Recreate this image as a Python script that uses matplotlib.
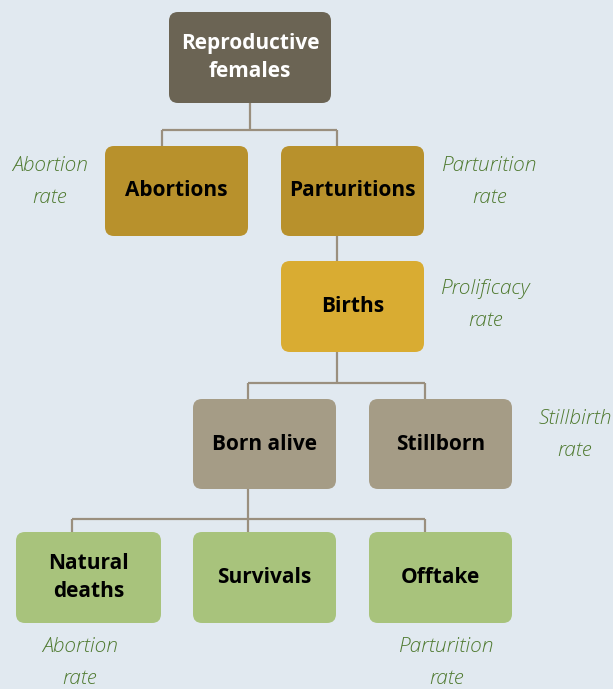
import matplotlib
matplotlib.use('Agg')
import matplotlib.pyplot as plt
from matplotlib.patches import FancyBboxPatch

# data
node_labels = ['Reproductive\nfemales', 'Abortions', 'Parturitions', 'Births',
               'Born alive', 'Stillborn', 'Natural\ndeaths', 'Survivals', 'Offtake']
node_levels = ['top', 'mid', 'mid', 'birth', 'born', 'born', 'end', 'end', 'end']
rate_labels = ['Abortion\nrate', 'Parturition\nrate', 'Prolificacy\nrate',
               'Stillbirth\nrate', 'Abortion\nrate', 'Parturition\nrate']

# layout (pixel coords of the image)
boxes = [(169, 12, 162, 91), (105, 146, 143, 90), (281, 146, 143, 90),
         (281, 261, 143, 91), (193, 399, 143, 90), (369, 399, 143, 90),
         (16, 532, 145, 91), (193, 532, 143, 91), (369, 532, 143, 91)]
level_colors = {'top': '#6b6454', 'mid': '#b8912c', 'birth': '#d9ac32',
                'born': '#a59c86', 'end': '#a8c37c'}
rate_pos = [(50, 182), (490, 182), (486, 305), (575, 435), (80, 663), (447, 663)]

connectors = [
    [(250, 103), (250, 130)], [(162, 130), (337, 130)],
    [(162, 130), (162, 146)], [(337, 130), (337, 146)],
    [(337, 236), (337, 261)],
    [(337, 352), (337, 383)], [(248, 383), (425, 383)],
    [(248, 383), (248, 399)], [(425, 383), (425, 399)],
    [(248, 489), (248, 519)], [(72, 519), (425, 519)],
    [(72, 519), (72, 532)], [(248, 519), (248, 532)], [(425, 519), (425, 532)],
]

fam = ['Open Sans', 'DejaVu Sans']
bg = '#e1e9f0'
line_col = '#9a8f7e'
rate_col = '#4f7a30'

fig = plt.figure(figsize=(6.13, 6.89), dpi=100, facecolor=bg)
ax = fig.add_axes([0, 0, 1, 1])
ax.set_xlim(0, 613)
ax.set_ylim(689, 0)
ax.axis('off')
ax.set_facecolor(bg)

for seg in connectors:
    xs, ys = zip(*seg)
    ax.plot(xs, ys, color=line_col, lw=1.6, solid_capstyle='butt', zorder=1)

for lab, lvl, (x, y, w, h) in zip(node_labels, node_levels, boxes):
    ax.add_patch(FancyBboxPatch((x, y), w, h, boxstyle='round,pad=0,rounding_size=9',
                                fc=level_colors[lvl], ec='none', zorder=2))
    tc = 'white' if lvl == 'top' else 'black'
    ax.text(x + w / 2, y + h / 2, lab, ha='center', va='center',
            fontsize=15, fontweight='bold', color=tc, family=fam,
            linespacing=1.4, zorder=3)

for lab, (x, y) in zip(rate_labels, rate_pos):
    ax.text(x, y, lab, ha='center', va='center', fontsize=15, style='italic',
            fontweight='light', color=rate_col, family=fam, linespacing=1.75, zorder=3)

fig.savefig('out.png', dpi=100, facecolor=bg)
